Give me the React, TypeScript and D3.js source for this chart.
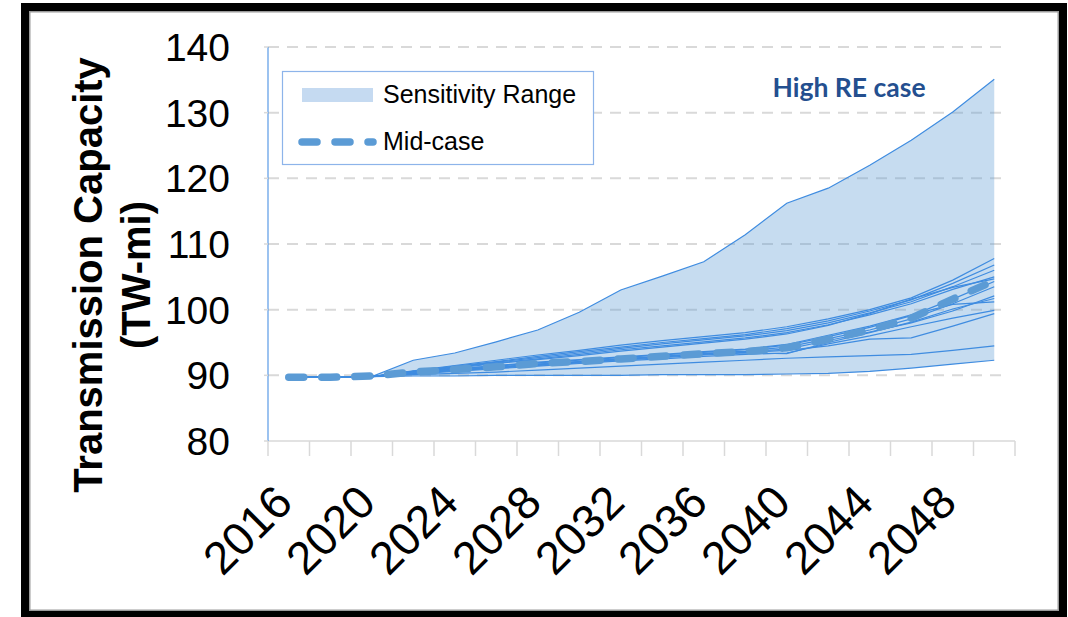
import React from "react";
import * as d3 from "d3";

// Model years (two-year steps) and labelled years on the category axis
const years = [2016, 2018, 2020, 2022, 2024, 2026, 2028, 2030, 2032, 2034, 2036, 2038, 2040, 2042, 2044, 2046, 2048, 2050];
const labelYears = [2016, 2020, 2024, 2028, 2032, 2036, 2040, 2044, 2048];
const yTicks = [80, 90, 100, 110, 120, 130, 140];

// Mid-case transmission capacity (TW-mi)
const midCase = [89.7, 89.7, 89.9, 90.5, 90.9, 91.3, 91.8, 92.1, 92.5, 92.9, 93.3, 93.6, 94.2, 95.5, 96.9, 98.7, 101.6, 104.4];

// Sensitivity runs (TW-mi)
const highestRun = [89.7, 89.7, 89.8, 92.3, 93.4, 95.1, 96.9, 99.6, 103.0, 105.1, 107.3, 111.4, 116.2, 118.5, 122.0, 125.8, 130.1, 135.1];
const upperRuns = [
  [89.7, 89.7, 89.8, 90.7, 91.5, 92.3, 93.1, 93.8, 94.6, 95.3, 95.9, 96.5, 97.4, 98.6, 100.0, 101.8, 104.5, 107.8],
  [89.7, 89.7, 89.8, 90.6, 91.4, 92.1, 92.9, 93.6, 94.3, 95.0, 95.6, 96.2, 97.1, 98.3, 99.8, 101.5, 104.0, 106.8],
  [89.7, 89.7, 89.8, 90.6, 91.3, 92.0, 92.7, 93.4, 94.1, 94.8, 95.4, 96.0, 96.8, 98.0, 99.5, 101.2, 103.5, 106.0],
  [89.7, 89.7, 89.8, 90.5, 91.2, 91.9, 92.5, 93.2, 93.9, 94.5, 95.1, 95.7, 96.5, 97.7, 99.2, 100.9, 103.1, 105.0],
  [89.7, 89.7, 89.8, 90.5, 91.1, 91.8, 92.4, 93.0, 93.7, 94.3, 94.9, 95.5, 96.3, 97.6, 99.4, 101.6, 103.4, 104.7],
];
const middleRuns = [
  [89.7, 89.7, 89.8, 90.6, 91.0, 91.4, 91.9, 92.3, 92.7, 93.1, 93.5, 93.9, 94.6, 95.9, 97.3, 99.1, 101.6, 104.3],
  [89.7, 89.7, 89.8, 90.4, 90.9, 91.3, 91.7, 92.1, 92.5, 92.9, 93.3, 93.7, 94.3, 95.6, 96.9, 98.6, 100.9, 103.5],
  [89.7, 89.7, 89.8, 90.3, 90.7, 91.1, 91.5, 91.9, 92.3, 92.7, 93.1, 93.4, 93.3, 95.0, 96.5, 98.1, 100.1, 101.7],
  [89.7, 89.7, 89.8, 90.5, 91.0, 91.5, 92.0, 92.4, 92.8, 93.2, 93.6, 94.0, 94.7, 96.1, 97.5, 99.2, 100.8, 101.2],
  [89.7, 89.7, 89.8, 90.2, 90.6, 91.0, 91.4, 91.8, 92.2, 92.5, 92.9, 93.2, 93.4, 94.8, 96.0, 97.4, 98.7, 99.9],
  [89.7, 89.7, 89.8, 90.3, 90.8, 91.2, 91.6, 92.0, 92.4, 92.8, 93.2, 93.5, 93.8, 94.5, 95.5, 95.7, 97.5, 99.4],
  [89.7, 89.7, 89.8, 90.4, 90.8, 91.2, 91.7, 92.1, 92.5, 92.9, 93.3, 93.6, 94.0, 95.3, 96.6, 98.0, 99.8, 102.1],
];
const lowerRuns = [
  [89.7, 89.7, 89.8, 90.1, 90.3, 90.5, 90.8, 91.1, 91.4, 91.7, 92.0, 92.3, 92.6, 92.8, 93.0, 93.2, 93.8, 94.5],
  [89.7, 89.7, 89.8, 89.9, 89.9, 90.0, 90.0, 90.0, 90.0, 90.1, 90.1, 90.1, 90.2, 90.3, 90.6, 91.1, 91.7, 92.3],
];

const allRuns = [highestRun, ...upperRuns, ...middleRuns, ...lowerRuns];

const W = 1068;
const H = 617;
const plot = { left: 268, right: 1015, top: 47, bottom: 441 };

const rangeFill = "rgba(91,155,213,0.35)";
const runColor = "#3f8ce0";
const midColor = "#5b9bd5";
const gridColor = "#d9d9d9";

export default function App() {
  const x = d3.scaleBand<number>().domain(years).range([plot.left, plot.right]).padding(0);
  const cx = (yr: number) => (x(yr) as number) + x.bandwidth() / 2;
  const y = d3.scaleLinear().domain([80, 140]).range([plot.bottom, plot.top]);

  const envelope = years.map((yr, i) => ({
    yr,
    lo: d3.min(allRuns, (r) => r[i]) as number,
    hi: d3.max(allRuns, (r) => r[i]) as number,
  }));

  const areaGen = d3
    .area<{ yr: number; lo: number; hi: number }>()
    .x((d) => cx(d.yr))
    .y0((d) => y(d.lo))
    .y1((d) => y(d.hi));

  const lineGen = d3
    .line<number>()
    .x((_, i) => cx(years[i]))
    .y((v) => y(v));

  const boundaries = [...years.map((yr) => x(yr) as number), plot.right];

  return (
    <svg
      width={W}
      height={H}
      style={{ position: "absolute", left: 0, top: 0, display: "block", background: "#fff" }}
      fontFamily="'Liberation Sans', Arial, sans-serif"
    >
      {/* frame */}
      <rect x={25} y={7} width={1038} height={607} fill="none" stroke="#000" strokeWidth={8} />
      <rect x={29.75} y={11.75} width={1028.5} height={598.5} fill="none" stroke="#9a9a9a" strokeWidth={1.5} />

      {/* horizontal gridlines */}
      {yTicks
        .filter((t) => t !== 80)
        .map((t) => (
          <line
            key={t}
            x1={plot.left}
            x2={1008}
            y1={y(t)}
            y2={y(t)}
            stroke={gridColor}
            strokeWidth={2}
            strokeDasharray="11 8"
          />
        ))}

      {/* sensitivity range envelope */}
      <path d={areaGen(envelope) as string} fill={rangeFill} />

      {/* individual sensitivity runs */}
      {allRuns.map((r, i) => (
        <path key={i} d={lineGen(r) as string} fill="none" stroke={runColor} strokeWidth={1.2} />
      ))}

      {/* mid-case */}
      <path
        d={lineGen(midCase) as string}
        fill="none"
        stroke={midColor}
        strokeWidth={7.5}
        strokeDasharray="15 18"
        strokeLinecap="round"
      />

      {/* x axis */}
      <line x1={plot.left} x2={plot.right} y1={plot.bottom} y2={plot.bottom} stroke={gridColor} strokeWidth={1.5} />
      {boundaries.map((bx, i) => (
        <line key={i} x1={bx} x2={bx} y1={plot.bottom} y2={plot.bottom + 15} stroke={gridColor} strokeWidth={1.5} />
      ))}
      {labelYears.map((yr) => (
        <text
          key={yr}
          transform={`translate(${cx(yr) + 6},${505}) rotate(-45)`}
          textAnchor="end"
          fontSize={46}
          fill="#000"
        >
          {yr}
        </text>
      ))}

      {/* y axis */}
      <line x1={plot.left} x2={plot.left} y1={plot.top} y2={plot.bottom} stroke="#5a9ae6" strokeWidth={1.2} />
      {yTicks.map((t) => (
        <g key={t}>
          <line x1={plot.left - 4} x2={plot.left} y1={y(t)} y2={y(t)} stroke={gridColor} strokeWidth={1.5} />
          <text x={230} y={y(t)} dy="0.36em" textAnchor="end" fontSize={39} fill="#000">
            {t}
          </text>
        </g>
      ))}

      {/* axis title */}
      <g transform="translate(0,275) rotate(-90)" fontWeight="bold" fontSize={40} fill="#000" textAnchor="middle">
        <text x={0} y={102}>Transmission Capacity</text>
        <text x={0} y={150}>(TW-mi)</text>
      </g>

      {/* legend */}
      <rect x={282.5} y={71.5} width={311} height={93} fill="#fff" stroke="#8db4ea" strokeWidth={1.2} />
      <rect x={302} y={88} width={71} height={14} fill="#c5daf1" />
      <text x={383} y={103} fontSize={25} fill="#000">Sensitivity Range</text>
      <line
        x1={302}
        x2={373}
        y1={142}
        y2={142}
        stroke={midColor}
        strokeWidth={7.5}
        strokeDasharray="15 18"
        strokeLinecap="round"
      />
      <text x={383} y={150} fontSize={25} fill="#000">Mid-case</text>

      {/* case label */}
      <text x={849} y={97} textAnchor="middle" fontFamily="Lato, 'Open Sans', sans-serif" fontWeight="bold" fontSize={26.5} fill="#244f8f">
        High RE case
      </text>
    </svg>
  );
}
